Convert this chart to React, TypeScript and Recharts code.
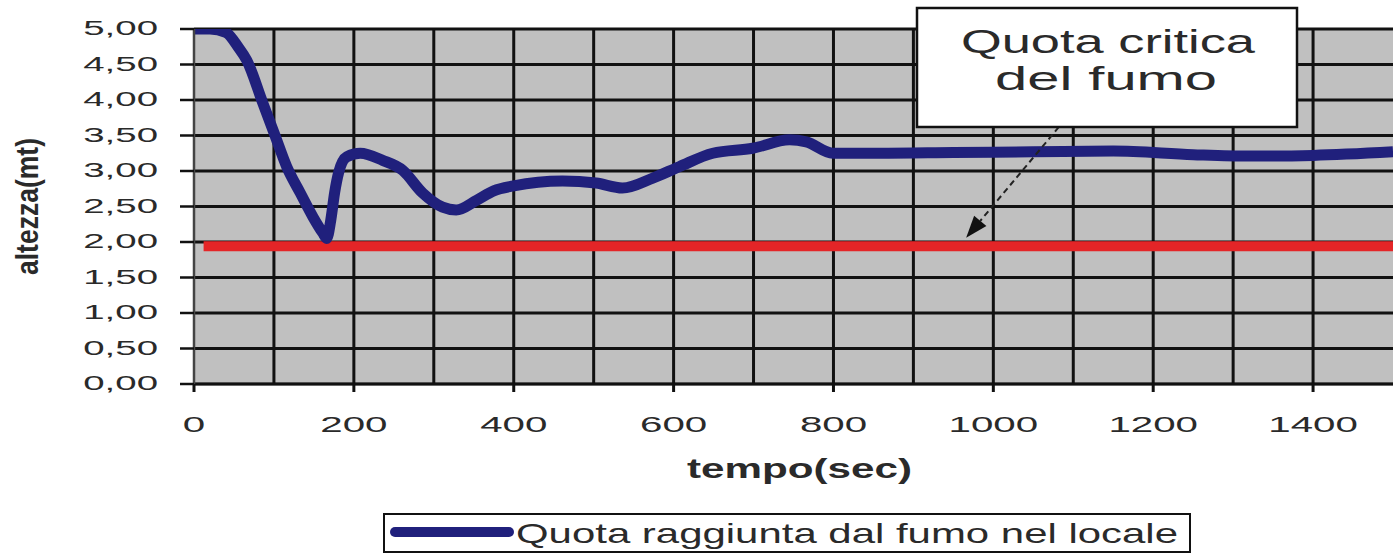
import React from 'react';
import { LineChart, Line, XAxis, YAxis, CartesianGrid, ReferenceLine } from 'recharts';

// tempo (sec) e quota raggiunta dal fumo (mt)
const times = [0, 20, 40, 55, 66, 86, 101, 116, 133, 149, 161, 166, 171, 176, 181, 191, 208, 236, 261, 286, 311, 328, 354, 375, 400, 461, 503, 536, 574, 607, 649, 699, 745, 766, 799, 857, 950, 1050, 1150, 1250, 1320, 1400, 1500];
const heights = [5.0, 5.0, 4.95, 4.75, 4.56, 3.96, 3.51, 3.06, 2.69, 2.35, 2.13, 2.05, 2.3, 2.7, 2.98, 3.2, 3.25, 3.15, 3.01, 2.69, 2.49, 2.45, 2.59, 2.72, 2.79, 2.86, 2.83, 2.76, 2.9, 3.06, 3.25, 3.32, 3.44, 3.41, 3.25, 3.25, 3.26, 3.27, 3.28, 3.23, 3.21, 3.22, 3.27];

const criticalTimes = [12, 1500];
const criticalLevel = 1.94;

const xTicks = [0, 200, 400, 600, 800, 1000, 1200, 1400];
const yTicks = [0, 0.5, 1, 1.5, 2, 2.5, 3, 3.5, 4, 4.5, 5];
const gridX = [100, 200, 300, 400, 500, 600, 700, 800, 900, 1000, 1100, 1200, 1300, 1400];

// freccia dell'annotazione (dal box alla linea critica)
const arrowFrom = { x: 1082, y: 3.62 };
const arrowTo = { x: 966, y: 2.06 };

const smokeData = times.map((t, i) => ({ t, v: heights[i] }));
const criticalData = criticalTimes.map((t) => ({ t, v: criticalLevel }));

const BLUE = '#20207c';
const RED = '#e42527';
const INK = '#2a2a2a';
const FONT = '"Liberation Sans", Arial, sans-serif';

const XTick = (props: any) => {
  const { x, y, payload } = props;
  return (
    <g transform={`translate(${x},${y + 38}) scale(1.83,1)`}>
      <text textAnchor="middle" fontSize={22} fill={INK} fontFamily={FONT}>
        {payload.value}
      </text>
    </g>
  );
};

const YTick = (props: any) => {
  const { x, y, payload } = props;
  const label = Number(payload.value).toFixed(2).replace('.', ',');
  return (
    <g transform={`translate(${x - 20},${y + 6}) scale(1.83,1)`}>
      <text textAnchor="end" fontSize={21} fill={INK} fontFamily={FONT}>
        {label}
      </text>
    </g>
  );
};

const XLabel = (props: any) => {
  const { viewBox } = props;
  const cx = viewBox.x + viewBox.width / 2 + 6;
  return (
    <text x={cx} y={viewBox.y + 94} textAnchor="middle" fontSize={28} fontWeight="bold" fill={INK}
      fontFamily={FONT} textLength={225} lengthAdjust="spacingAndGlyphs">
      tempo(sec)
    </text>
  );
};

const YLabel = (props: any) => {
  const { viewBox } = props;
  const cy = viewBox.y + viewBox.height / 2;
  return (
    <g transform={`translate(38,${cy}) scale(1.4,1) rotate(-90)`}>
      <text textAnchor="middle" fontSize={22} fontWeight="bold" fill={INK} fontFamily={FONT}
        textLength={137} lengthAdjust="spacingAndGlyphs">
        altezza(mt)
      </text>
    </g>
  );
};

const ArrowShape = (props: any) => {
  const { x1, y1, x2, y2 } = props;
  const ang = Math.atan2(y2 - y1, x2 - x1);
  const len = 22;
  const half = 8;
  const bx = x2 - len * Math.cos(ang);
  const by = y2 - len * Math.sin(ang);
  const px = -Math.sin(ang) * half;
  const py = Math.cos(ang) * half;
  return (
    <g>
      <line x1={x1} y1={y1} x2={bx} y2={by} stroke="#222" strokeWidth={2} strokeDasharray="6 4" />
      <polygon points={`${x2},${y2} ${bx + px},${by + py} ${bx - px},${by - py}`} fill="#111" />
    </g>
  );
};

const gridGenerator = (args: any) => {
  const { xAxis, offset } = args;
  if (xAxis && typeof xAxis.scale === 'function') {
    return gridX.map((v) => xAxis.scale(v));
  }
  return gridX.map((v) => offset.left + (v / 1500) * offset.width);
};

const Legenda = () => (
  <div style={{
    position: 'absolute', left: 383, top: 513, width: 808, height: 40,
    border: '2px solid #111', boxSizing: 'border-box', background: '#fff',
  }}>
    <svg width={804} height={36} style={{ display: 'block' }}>
      <line x1={10} y1={17} x2={124} y2={17} stroke={BLUE} strokeWidth={10} strokeLinecap="round" />
      <text x={131} y={28} fontSize={28} fill={INK} fontFamily={FONT} textLength={662}
        lengthAdjust="spacingAndGlyphs">
        Quota raggiunta dal fumo nel locale
      </text>
    </svg>
  </div>
);

const Annotazione = () => (
  <svg width={1393} height={555} style={{ position: 'absolute', left: 0, top: 0, pointerEvents: 'none' }}>
    <rect x={917} y={8} width={380} height={119} fill="#fff" stroke="#111" strokeWidth={2.5} />
    <text x={1108} y={53} textAnchor="middle" fontSize={33} fill={INK} fontFamily={FONT}
      textLength={294} lengthAdjust="spacingAndGlyphs">
      Quota critica
    </text>
    <text x={1106} y={90} textAnchor="middle" fontSize={33} fill={INK} fontFamily={FONT}
      textLength={222} lengthAdjust="spacingAndGlyphs">
      del fumo
    </text>
  </svg>
);

export default function App() {
  return (
    <div style={{ position: 'absolute', left: 0, top: 0, width: 1393, height: 555, background: '#fff', fontFamily: FONT }}>
      <LineChart width={1393} height={555} margin={{ top: 29, right: 0, bottom: 121, left: 0 }}>
        <CartesianGrid
          fill="#c0c0c0"
          stroke="#111"
          strokeWidth={3}
          verticalCoordinatesGenerator={gridGenerator}
        />
        <XAxis
          type="number"
          dataKey="t"
          domain={[0, 1500]}
          ticks={xTicks}
          height={50}
          tickSize={8}
          axisLine={{ stroke: '#111', strokeWidth: 2.5 }}
          tickLine={{ stroke: '#111', strokeWidth: 3 }}
          tick={<XTick />}
          label={<XLabel />}
          allowDataOverflow
        />
        <YAxis
          type="number"
          domain={[0, 5]}
          ticks={yTicks}
          width={194}
          tickSize={14}
          axisLine={{ stroke: '#444', strokeWidth: 2.5 }}
          tickLine={{ stroke: '#111', strokeWidth: 2.5 }}
          tick={<YTick />}
          label={<YLabel />}
          allowDataOverflow
        />
        <Line
          data={criticalData}
          dataKey="v"
          type="linear"
          stroke={RED}
          strokeWidth={10}
          dot={false}
          isAnimationActive={false}
        />
        <Line
          data={smokeData}
          dataKey="v"
          type="monotone"
          stroke={BLUE}
          strokeWidth={11}
          dot={false}
          isAnimationActive={false}
        />
        <ReferenceLine
          segment={[arrowFrom, arrowTo]}
          ifOverflow="visible"
          shape={<ArrowShape />}
        />
      </LineChart>
      <Annotazione />
      <Legenda />
    </div>
  );
}
